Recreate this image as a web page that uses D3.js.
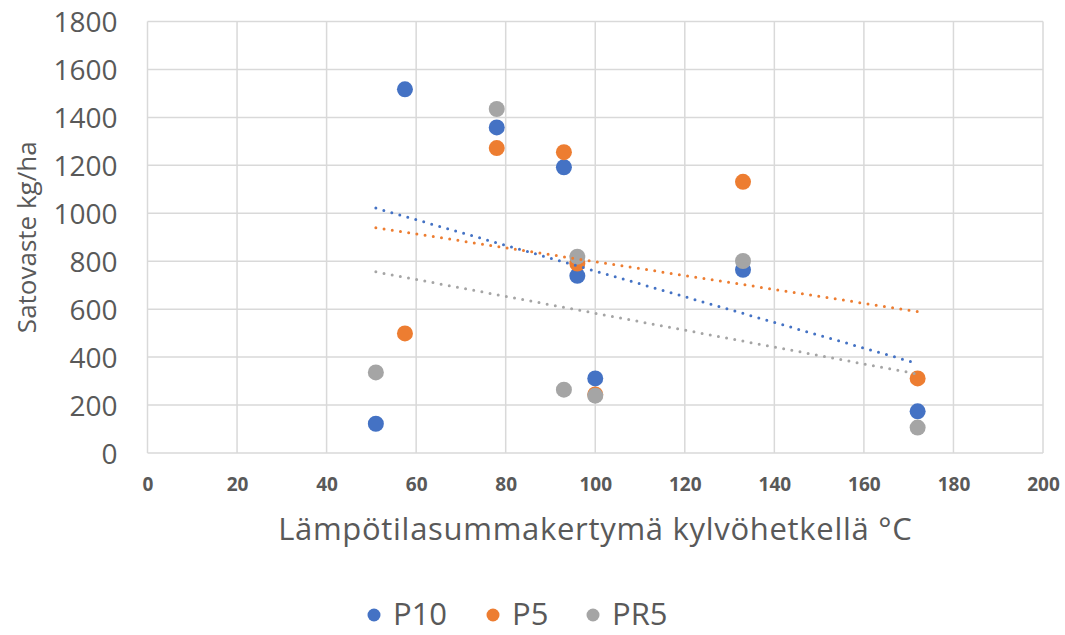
<!DOCTYPE html>
<html>
<head>
<meta charset="utf-8">
<script src="https://cdn.jsdelivr.net/npm/d3@7"></script>
<style>
  html, body { margin: 0; padding: 0; background: #fff; }
  text { font-family: 'Open Sans', sans-serif; fill: #595959; }
</style>
</head>
<body>
<div id="chart"></div>
<script>
// ////////////////////////////////////////////////////////////////////////////
// DATA
// ////////////////////////////////////////////////////////////////////////////
const xValues = [51, 57.5, 78, 93, 96, 100, 133, 172];
const p10 = [122, 1517, 1358, 1192, 739, 311, 764, 174];
const p5 = [null, 499, 1272, 1255, 790, 244, 1131, 311];
const pr5 = [336, null, 1435, 264, 819, 239, 801, 106];

const seriesNames = ['P10', 'P5', 'PR5'];
const xTicks = [0, 20, 40, 60, 80, 100, 120, 140, 160, 180, 200];
const yTicks = [0, 200, 400, 600, 800, 1000, 1200, 1400, 1600, 1800];

const xTitle = 'Lämpötilasummakertymä kylvöhetkellä °C';
const yTitle = 'Satovaste kg/ha';

// ////////////////////////////////////////////////////////////////////////////
// SET UP
// ////////////////////////////////////////////////////////////////////////////
const width = 1065;
const height = 635;
const plot = { left: 147.5, right: 1043, top: 21.5, bottom: 453 };

const colorScale = d3.scaleOrdinal()
  .domain(seriesNames)
  .range(['#4472C4', '#ED7D31', '#A5A5A5']);

const x = d3.scaleLinear().domain([0, 200]).range([plot.left, plot.right]);
const y = d3.scaleLinear().domain([0, 1800]).range([plot.bottom, plot.top]);

const series = [p10, p5, pr5].map((vals, i) => ({
  name: seriesNames[i],
  points: vals
    .map((v, j) => ({ x: xValues[j], y: v }))
    .filter(d => d.y !== null),
}));

// least squares line for each series (excel linear trendline)
function trend(points) {
  const mx = d3.mean(points, d => d.x);
  const my = d3.mean(points, d => d.y);
  const sxy = d3.sum(points, d => (d.x - mx) * (d.y - my));
  const sxx = d3.sum(points, d => (d.x - mx) * (d.x - mx));
  const slope = sxy / sxx;
  return v => my + slope * (v - mx);
}
const [xMin, xMax] = d3.extent(xValues);

const svg = d3.select('#chart').append('svg')
  .attr('width', width)
  .attr('height', height);

svg.append('rect')
  .attr('width', width)
  .attr('height', height)
  .attr('fill', '#fff');

// ////////////////////////////////////////////////////////////////////////////
// GRID + AXES
// ////////////////////////////////////////////////////////////////////////////
const grid = svg.append('g');
grid.selectAll('line.h')
  .data(yTicks)
  .enter()
  .append('line')
    .attr('class', 'h')
    .attr('x1', plot.left)
    .attr('x2', plot.right)
    .attr('y1', d => y(d))
    .attr('y2', d => y(d))
    .attr('stroke', '#d9d9d9')
    .attr('stroke-width', 1.5);

grid.selectAll('line.v')
  .data(xTicks)
  .enter()
  .append('line')
    .attr('class', 'v')
    .attr('x1', d => x(d))
    .attr('x2', d => x(d))
    .attr('y1', plot.top)
    .attr('y2', plot.bottom)
    .attr('stroke', '#d9d9d9')
    .attr('stroke-width', 1.5);

const yAxis = svg.append('g')
  .attr('transform', `translate(${plot.left - 30},0)`)
  .call(d3.axisLeft(y).tickValues(yTicks).tickFormat(d3.format('d')).tickSize(0).tickPadding(0));
yAxis.select('.domain').remove();
yAxis.selectAll('text')
  .attr('dy', '0.36em')
  .style('font-size', '28px')
  .style('fill', '#595959');

const xAxis = svg.append('g')
  .attr('transform', `translate(0,${plot.bottom})`)
  .call(d3.axisBottom(x).tickValues(xTicks).tickSize(0).tickPadding(0));
xAxis.select('.domain').remove();
xAxis.selectAll('text')
  .attr('y', 38)
  .attr('dy', 0)
  .style('font-size', '19px')
  .style('font-weight', 'bold')
  .style('fill', '#595959');

svg.append('text')
  .attr('x', (plot.left + plot.right) / 2)
  .attr('y', 540)
  .attr('text-anchor', 'middle')
  .style('font-size', '31px')
  .style('letter-spacing', '0.7px')
  .text(xTitle);

svg.append('text')
  .attr('transform', `translate(36,${(plot.top + plot.bottom) / 2}) rotate(-90)`)
  .attr('text-anchor', 'middle')
  .style('font-size', '26px')
  .text(yTitle);

// ////////////////////////////////////////////////////////////////////////////
// POINTS + TRENDLINES
// ////////////////////////////////////////////////////////////////////////////
series.forEach((s) => {
  svg.append('g')
    .selectAll('circle')
    .data(s.points)
    .enter()
    .append('circle')
      .attr('cx', d => x(d.x))
      .attr('cy', d => y(d.y))
      .attr('r', 8)
      .attr('fill', colorScale(s.name));
});

series.forEach((s) => {
  const f = trend(s.points);
  svg.append('line')
    .attr('x1', x(xMin))
    .attr('y1', y(f(xMin)))
    .attr('x2', x(xMax))
    .attr('y2', y(f(xMax)))
    .attr('stroke', colorScale(s.name))
    .attr('stroke-width', 3)
    .attr('stroke-linecap', 'round')
    .attr('stroke-dasharray', '0 8.3');
});

// ////////////////////////////////////////////////////////////////////////////
// LEGEND
// ////////////////////////////////////////////////////////////////////////////
const legendX = [374, 493, 593];
const legend = svg.append('g');
seriesNames.forEach((name, i) => {
  legend.append('circle')
    .attr('cx', legendX[i])
    .attr('cy', 615)
    .attr('r', 6.5)
    .attr('fill', colorScale(name));
  legend.append('text')
    .attr('x', legendX[i] + 19)
    .attr('y', 625)
    .style('font-size', '31px')
    .text(name);
});
</script>
</body>
</html>
